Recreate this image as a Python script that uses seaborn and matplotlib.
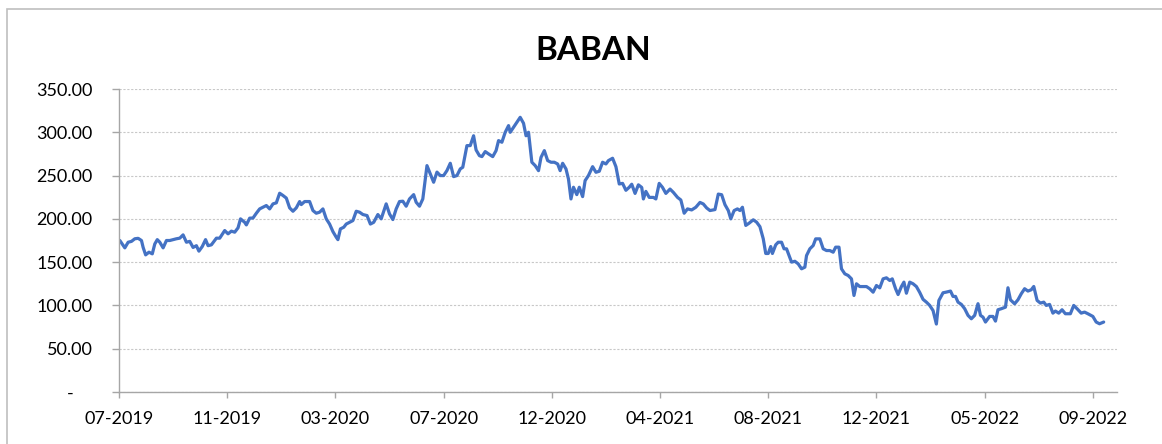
import matplotlib
matplotlib.use("Agg")
import matplotlib.pyplot as plt
from matplotlib.patches import Rectangle
from matplotlib.ticker import FuncFormatter
import seaborn as sns
import pandas as pd

title = "BABAN"

dates = [
    "2019-07-02", "2019-07-08", "2019-07-12", "2019-07-16", "2019-07-20", "2019-07-24", "2019-07-28", "2019-07-30",
    "2019-08-02", "2019-08-06", "2019-08-10", "2019-08-13", "2019-08-16", "2019-08-19", "2019-08-23", "2019-08-27",
    "2019-08-31", "2019-09-04", "2019-09-08", "2019-09-12", "2019-09-16", "2019-09-20", "2019-09-24", "2019-09-28",
    "2019-10-02", "2019-10-05", "2019-10-09", "2019-10-13", "2019-10-16", "2019-10-20", "2019-10-26", "2019-10-30",
    "2019-11-05", "2019-11-09", "2019-11-13", "2019-11-17", "2019-11-21", "2019-11-24", "2019-11-29", "2019-12-01",
    "2019-12-05", "2019-12-09", "2019-12-13", "2019-12-17", "2019-12-21", "2019-12-25", "2019-12-29", "2020-01-02",
    "2020-01-06", "2020-01-10", "2020-01-14", "2020-01-18", "2020-01-22", "2020-01-26", "2020-01-30", "2020-02-03",
    "2020-02-05", "2020-02-09", "2020-02-15", "2020-02-19", "2020-02-23", "2020-02-27", "2020-03-02", "2020-03-06",
    "2020-03-10", "2020-03-14", "2020-03-18", "2020-03-20", "2020-03-23", "2020-03-27", "2020-03-30", "2020-04-03",
    "2020-04-07", "2020-04-11", "2020-04-15", "2020-04-19", "2020-04-24", "2020-04-28", "2020-05-02", "2020-05-07",
    "2020-05-11", "2020-05-17", "2020-05-21", "2020-05-25", "2020-05-29", "2020-06-02", "2020-06-06", "2020-06-10",
    "2020-06-14", "2020-06-19", "2020-06-22", "2020-06-26", "2020-06-30", "2020-07-05", "2020-07-09", "2020-07-13",
    "2020-07-17", "2020-07-21", "2020-07-25", "2020-07-29", "2020-08-02", "2020-08-06", "2020-08-10", "2020-08-14",
    "2020-08-17", "2020-08-22", "2020-08-26", "2020-08-30", "2020-09-02", "2020-09-06", "2020-09-09", "2020-09-13",
    "2020-09-17", "2020-09-22", "2020-09-26", "2020-09-29", "2020-10-03", "2020-10-07", "2020-10-11", "2020-10-13",
    "2020-10-17", "2020-10-21", "2020-10-25", "2020-10-29", "2020-11-01", "2020-11-04", "2020-11-08", "2020-11-12",
    "2020-11-16", "2020-11-19", "2020-11-23", "2020-11-27", "2020-12-01", "2020-12-05", "2020-12-09", "2020-12-12",
    "2020-12-15", "2020-12-19", "2020-12-22", "2020-12-25", "2020-12-28", "2021-01-01", "2021-01-04", "2021-01-08",
    "2021-01-11", "2021-01-15", "2021-01-20", "2021-01-24", "2021-01-28", "2021-02-01", "2021-02-05", "2021-02-08",
    "2021-02-13", "2021-02-17", "2021-02-21", "2021-02-25", "2021-03-01", "2021-03-05", "2021-03-08", "2021-03-12",
    "2021-03-16", "2021-03-20", "2021-03-22", "2021-03-25", "2021-03-29", "2021-04-03", "2021-04-06", "2021-04-10",
    "2021-04-14", "2021-04-18", "2021-04-23", "2021-04-27", "2021-05-02", "2021-05-06", "2021-05-10", "2021-05-14",
    "2021-05-19", "2021-05-24", "2021-05-29", "2021-06-02", "2021-06-06", "2021-06-10", "2021-06-16", "2021-06-20",
    "2021-06-24", "2021-06-28", "2021-07-02", "2021-07-05", "2021-07-09", "2021-07-13", "2021-07-16", "2021-07-19",
    "2021-07-23", "2021-07-27", "2021-08-01", "2021-08-05", "2021-08-09", "2021-08-13", "2021-08-16", "2021-08-19",
    "2021-08-22", "2021-08-24", "2021-08-28", "2021-08-31", "2021-09-04", "2021-09-07", "2021-09-10", "2021-09-13",
    "2021-09-16", "2021-09-20", "2021-09-24", "2021-09-28", "2021-10-02", "2021-10-04", "2021-10-08", "2021-10-12",
    "2021-10-15", "2021-10-20", "2021-10-24", "2021-10-28", "2021-11-01", "2021-11-05", "2021-11-08", "2021-11-12",
    "2021-11-15", "2021-11-19", "2021-11-23", "2021-11-27", "2021-11-30", "2021-12-03", "2021-12-07", "2021-12-11",
    "2021-12-15", "2021-12-19", "2021-12-23", "2021-12-27", "2021-12-31", "2022-01-04", "2022-01-08", "2022-01-12",
    "2022-01-15", "2022-01-19", "2022-01-22", "2022-01-26", "2022-01-29", "2022-02-01", "2022-02-05", "2022-02-09",
    "2022-02-13", "2022-02-17", "2022-02-21", "2022-02-25", "2022-03-01", "2022-03-05", "2022-03-09", "2022-03-12",
    "2022-03-17", "2022-03-21", "2022-03-26", "2022-03-29", "2022-04-01", "2022-04-04", "2022-04-08", "2022-04-12",
    "2022-04-16", "2022-04-20", "2022-04-24", "2022-04-28", "2022-05-01", "2022-05-04", "2022-05-07", "2022-05-12",
    "2022-05-16", "2022-05-19", "2022-05-22", "2022-05-26", "2022-05-31", "2022-06-03", "2022-06-06", "2022-06-11",
    "2022-06-15", "2022-06-19", "2022-06-23", "2022-06-27", "2022-07-01", "2022-07-04", "2022-07-08", "2022-07-12",
    "2022-07-16", "2022-07-19", "2022-07-23", "2022-07-27", "2022-07-30", "2022-08-03", "2022-08-07", "2022-08-11",
    "2022-08-17", "2022-08-21", "2022-08-25", "2022-08-30", "2022-09-03", "2022-09-07", "2022-09-13", "2022-09-17",
    "2022-09-21", "2022-09-26",
]

values = [
    175.0, 166.5, 173.0, 174.0, 177.0, 177.5, 175.0, 167.0,
    158.4, 161.5, 159.6, 171.0, 176.0, 173.0, 166.5, 175.0,
    175.0, 176.0, 177.0, 177.7, 181.5, 173.0, 174.0, 167.0,
    169.0, 162.7, 168.0, 176.0, 169.0, 170.0, 177.7, 177.7,
    186.5, 182.7, 185.8, 184.6, 189.6, 200.0, 196.0, 193.0,
    200.8, 201.0, 206.5, 211.5, 213.5, 215.4, 211.5, 217.3,
    218.5, 229.6, 227.0, 224.0, 212.7, 208.8, 212.7, 220.0,
    216.5, 220.0, 220.0, 209.6, 206.5, 207.7, 211.5, 200.0,
    194.0, 185.3, 178.8, 176.0, 188.4, 190.3, 194.0, 196.0,
    198.0, 208.8, 207.7, 205.0, 203.8, 194.0, 196.0, 205.0,
    200.0, 217.3, 205.7, 199.2, 211.5, 220.0, 220.4, 214.6,
    223.0, 228.0, 219.2, 214.6, 223.0, 261.5, 252.0, 242.3,
    254.0, 250.0, 250.0, 255.8, 264.2, 248.8, 250.0, 257.7,
    259.6, 284.6, 284.6, 296.0, 279.6, 273.0, 271.9, 277.7,
    275.0, 271.9, 278.8, 290.4, 288.5, 300.0, 307.7, 300.0,
    305.8, 311.6, 317.3, 310.4, 296.0, 300.0, 265.4, 261.5,
    255.7, 271.0, 278.8, 267.3, 265.4, 265.4, 263.4, 255.7,
    264.2, 257.7, 246.0, 223.0, 236.5, 228.0, 236.5, 225.7,
    244.2, 250.0, 260.3, 253.8, 255.0, 265.4, 263.4, 267.3,
    270.0, 260.3, 240.3, 241.0, 233.0, 236.5, 240.0, 229.4,
    239.3, 236.3, 223.0, 231.7, 224.8, 224.8, 223.0, 241.0,
    236.3, 229.4, 234.4, 230.6, 224.8, 221.8, 206.5, 211.5,
    210.3, 213.4, 219.0, 217.2, 212.6, 209.6, 210.7, 228.6,
    227.9, 216.4, 209.6, 200.0, 209.6, 211.5, 209.6, 213.4,
    192.4, 195.0, 198.9, 196.2, 191.0, 177.0, 160.0, 160.0,
    168.0, 160.0, 170.0, 173.0, 173.0, 165.4, 165.4, 157.6,
    150.0, 151.0, 148.0, 142.3, 144.2, 157.6, 165.4, 169.2,
    176.9, 176.9, 165.4, 163.4, 163.4, 161.5, 167.3, 167.3,
    142.3, 136.5, 134.6, 130.7, 111.5, 125.0, 121.8, 121.8,
    121.8, 119.2, 115.3, 123.0, 120.3, 130.7, 131.9, 128.8,
    130.7, 119.2, 112.6, 121.8, 126.9, 114.1, 126.9, 125.0,
    121.8, 115.0, 107.0, 103.8, 100.0, 94.1, 78.5, 105.7,
    114.6, 115.4, 116.6, 110.4, 110.4, 103.8, 101.2, 96.2,
    88.5, 84.6, 88.5, 102.0, 88.5, 86.5, 80.8, 87.3,
    87.3, 81.9, 95.0, 96.2, 98.0, 120.4, 106.5, 101.9,
    106.5, 113.5, 119.3, 116.6, 118.1, 121.9, 105.8, 102.7,
    103.8, 100.0, 101.2, 91.1, 93.5, 91.1, 95.0, 90.4,
    90.4, 100.0, 96.2, 91.1, 92.3, 90.4, 87.3, 80.8,
    78.8, 80.8,
]

y_ticks = [0, 50, 100, 150, 200, 250, 300, 350]
x_tick_labels = ["07-2019", "11-2019", "03-2020", "07-2020", "12-2020",
                 "04-2021", "08-2021", "12-2021", "05-2022", "09-2022"]

df = pd.DataFrame({"date": pd.to_datetime(dates), "value": values})

sns.set_theme(style="white")
plt.rcParams["font.family"] = ["Lato", "DejaVu Sans"]

W, H = 1162, 444
fig = plt.figure(figsize=(W / 100, H / 100), dpi=100)
fig.patch.set_facecolor("white")
ax = fig.add_axes([119 / W, 1 - 392 / H, (1117 - 119) / W, (392 - 89) / H])

sns.lineplot(data=df, x="date", y="value", ax=ax, color="#4472C4", linewidth=2.3)
for ln in ax.lines:
    ln.set_solid_joinstyle("round")
    ln.set_solid_capstyle("round")

# axis range / ticks (Excel date axis: major unit 130 days from 2019-07-01)
start = pd.Timestamp("2019-07-01")
ax.set_xlim(start, start + pd.Timedelta(days=1199))
tick_pos = [start + pd.Timedelta(days=130 * i) for i in range(len(x_tick_labels))]
ax.set_xticks(tick_pos)
ax.set_xticklabels(x_tick_labels)

ax.set_ylim(0, 350)
ax.set_yticks(y_ticks)
ax.yaxis.set_major_formatter(FuncFormatter(lambda v, p: "-    " if v == 0 else f"{v:.2f}"))

ax.set_xlabel("")
ax.set_ylabel("")

for s in ["top", "right"]:
    ax.spines[s].set_visible(False)
for s in ["left", "bottom"]:
    ax.spines[s].set_color("#a6a6a6")
    ax.spines[s].set_linewidth(1.0)

ax.grid(axis="y", color="#c8c8c8", linestyle=(0, (2, 1.5)), linewidth=0.8)
ax.grid(axis="x", visible=False)
ax.set_axisbelow(True)

ax.tick_params(axis="y", which="major", length=5, width=1, color="#a6a6a6",
               direction="out", left=True, pad=14, labelsize=13, labelcolor="#000000")
ax.tick_params(axis="x", which="major", length=4, width=1, color="#a6a6a6",
               direction="out", bottom=True, pad=10, labelsize=13, labelcolor="#000000")

fig.text(593 / W, 1 - 51 / H, title, ha="center", va="center",
         fontsize=24, fontweight="bold", color="#000000")

fig.add_artist(Rectangle((7 / W, -0.2), 1.2, 1.2 - 9 / H, transform=fig.transFigure,
                         fill=False, edgecolor="#bfbfbf", linewidth=1.2))

fig.savefig("out.png", dpi=100, facecolor="white")
